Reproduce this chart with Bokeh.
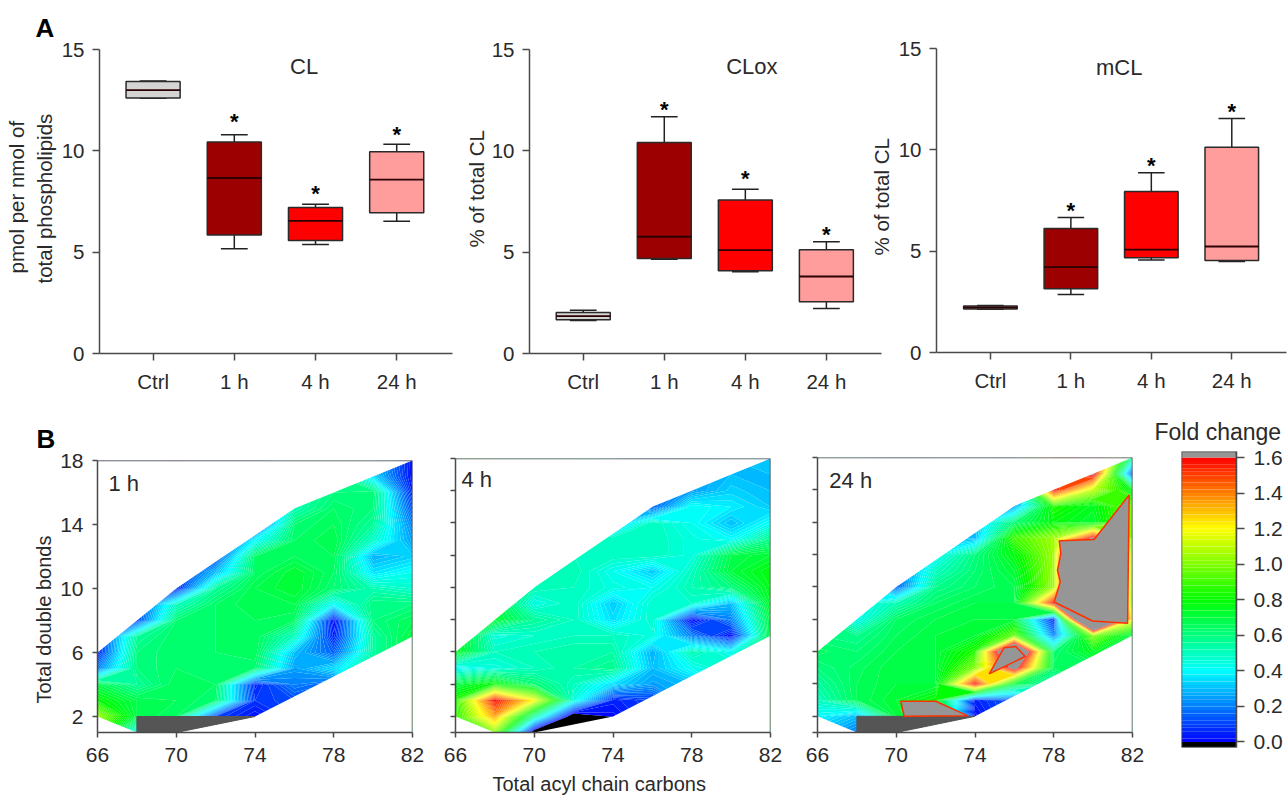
import numpy as np
from bokeh.core.properties import value
from bokeh.embed import file_html
from bokeh.layouts import column, row
from bokeh.models import FixedTicker, Label, NumeralTickFormatter, Range1d, Span, Title
from bokeh.plotting import figure
from bokeh.resources import INLINE

# ---------- panel A data ----------
groups = ["Ctrl", "1 h", "4 h", "24 h"]
box_colors = ["#d4d4d4", "#9c0000", "#ff0000", "#ff9c9c"]
cl_low = [12.60, 5.17, 5.38, 6.52]
cl_q1 = [12.61, 5.85, 5.58, 6.95]
cl_med = [13.00, 8.66, 6.54, 8.58]
cl_q3 = [13.42, 10.44, 7.21, 9.96]
cl_high = [13.44, 10.79, 7.36, 10.32]
cl_star = [None, 11.62, 8.02, 10.93]
clox_low = [1.63, 4.65, 4.03, 2.22]
clox_q1 = [1.66, 4.69, 4.08, 2.55]
clox_med = [1.84, 5.76, 5.10, 3.80]
clox_q3 = [2.02, 10.41, 7.58, 5.12]
clox_high = [2.14, 11.68, 8.11, 5.51]
clox_star = [None, 12.2, 8.78, 6.04]
mcl_low = [2.13, 2.86, 4.56, 4.49]
mcl_q1 = [2.15, 3.14, 4.67, 4.54]
mcl_med = [2.22, 4.21, 5.08, 5.23]
mcl_q3 = [2.29, 6.12, 7.94, 10.13]
mcl_high = [2.32, 6.66, 8.87, 11.55]
mcl_star = [None, 7.17, 9.39, 12.02]

# ---------- panel B data ----------
carbons = [66, 68, 70, 72, 74, 76, 78, 80, 82]
bonds = list(range(1, 19))
edge_top = [6, 8, 10, 11.67, 13.33, 15, 16, 17, 18]
edge_low = [2, 1, 1, 1.5, 2, 3.25, 4.5, 5.75, 7]
# one list per carbon count, values for bonds 1..18
z_1h = [
    [.9, 1.05, .8, .68, .2, .05, .05, .05, .05, .05, .05, .05, .05, .05, .05, .05, .05, .05],
    [.4, .68, .68, .56, .6, .6, .56, .1, .1, .1, .1, .1, .1, .1, .1, .1, .1, .1],
    [.4, .64, .66, .66, .64, .64, .64, .62, .5, .05, .05, .05, .05, .05, .05, .05, .05, .05],
    [.3, .1, .62, .64, .64, .64, .64, .64, .64, .56, .3, .1, .1, .1, .1, .1, .1, .1],
    [.02, .02, .08, .05, .62, .66, .66, .66, .68, .68, .64, .64, .4, .1, .1, .1, .1, .1],
    [.1, .1, .12, .2, .25, .3, .5, .64, .68, .72, .72, .66, .64, .62, .52, .52, .52, .52],
    [.15, .15, .15, .15, .35, .15, .05, .01, .4, .62, .64, .66, .68, .66, .64, .6, .6, .6],
    [.58, .58, .58, .58, .58, .55, .55, .6, .6, .52, .36, .28, .48, .56, .6, .62, .35, .3],
    [.7, .7, .7, .7, .7, .7, .7, .66, .6, .48, .42, .33, .25, .2, .12, .05, .02, .02],
]
z_4h = [
    [.6, .85, .85, .7, .4, .75, .8, .8, .8, .8, .8, .8, .8, .8, .8, .8, .8, .8],
    [1.0, 1.35, 1.6, .8, .45, .5, .45, .72, .7, .7, .7, .7, .7, .7, .7, .7, .7, .7],
    [-.1, .55, 1.2, .62, .5, .52, .48, .56, .44, .52, .52, .52, .52, .52, .52, .52, .52, .52],
    [-.5, -.1, .45, .5, .54, .54, .5, .5, .5, .5, .52, .5, .5, .5, .5, .5, .5, .5],
    [-.2, .01, .05, .35, .58, .54, .5, .35, .32, .45, .42, .5, .5, .3, .3, .3, .3, .3],
    [.1, .1, .1, .25, .3, .28, .45, .48, .48, .42, .32, .5, .5, .5, .15, .15, .15, .15],
    [.3, .3, .3, .3, .42, .52, .2, .01, .48, .52, .5, .45, .45, .42, .42, .25, .25, .25],
    [.5, .5, .5, .5, .5, .42, .02, .2, .3, .6, .7, .68, .4, .3, .38, .33, .3, .3],
    [.7, .7, .7, .7, .7, .7, .7, .7, .74, .76, .78, .72, .58, .42, .32, .3, .3, .32],
]
z_24h = [
    [.3, .4, .5, .55, .6, .65, .6, .6, .6, .6, .6, .6, .6, .6, .6, .6, .6, .6],
    [.2, .3, .66, .66, .65, .62, .58, .42, .4, .4, .4, .4, .4, .4, .4, .4, .4, .4],
    [.3, .7, .72, .7, .7, .68, .66, .64, .52, .15, .15, .15, .15, .15, .15, .15, .15, .15],
    [.1, .8, .8, .7, .7, .7, .7, .68, .64, .58, .5, .4, .3, .3, .3, .3, .3, .3],
    [.01, .01, .05, 1.6, 1.0, .85, .72, .7, .68, .64, .62, .6, .3, .3, .3, .3, .3, .3],
    [.15, .15, .15, .7, 1.7, 2.2, .95, .7, .68, .68, .72, .78, .9, .62, .25, .25, .25, .25],
    [.5, .5, .5, .5, .65, .62, .2, .05, 1.6, 1.05, 1.05, 1.05, 1.05, .78, .85, 1.6, 1.5, 1.5],
    [.65, .65, .65, .65, .65, .75, 1.0, 3.0, 3.0, 3.0, 3.0, 3.0, 1.65, .72, .75, 1.1, 1.65, 1.65],
    [.6, .6, .6, .6, .6, .6, .68, 1.2, 1.0, 1.0, 1.0, 1.0, 1.0, 1.0, 1.0, .75, .1, .55],
]
no_data_x = [68, 68, 74, 70]
no_data_y = [1, 2, 2, 1]
over_big_x = [81.83, 80.05, 78.28, 78.36, 78.19, 78.33, 78.02, 79.97, 81.75]
over_big_y = [15.68, 12.93, 12.85, 12.06, 11.03, 10.31, 9.07, 7.89, 7.76]
over_mid_x = [75.48, 76.07, 76.55, 74.72]
over_mid_y = [6.24, 6.32, 5.7, 4.62]
over_low_x = [70.23, 72.01, 73.62, 70.4]
over_low_y = [2.93, 2.93, 2.04, 2.0]

levels = [round(0.02 * i, 2) for i in range(81)]
scale_ticks = [0.0, 0.2, 0.4, 0.6, 0.8, 1.0, 1.2, 1.4, 1.6]
scale_stops = [0.0, 0.4, 0.8, 1.2, 1.6]
scale_r = [0, 0, 0, 255, 255]
scale_g = [0, 255, 255, 255, 0]
scale_b = [255, 255, 0, 0, 0]

FONT = "Liberation Sans"
INK = "#2a2a2a"
AXIS = "#4a4a4a"


def color_at(v):
    r = np.interp(v, scale_stops, scale_r)
    g = np.interp(v, scale_stops, scale_g)
    b = np.interp(v, scale_stops, scale_b)
    return "#%02x%02x%02x" % (int(r), int(g), int(b))


band_colors = [color_at((a + b) / 2) for a, b in zip(levels[:-1], levels[1:])]


def note(p, text, x, y, size, **kw):
    p.add_layout(Label(x=x, y=y, text=text, text_font=FONT, text_font_size=f"{size}px",
                       text_color=INK, **kw))


def side(p, where, text, size, standoff, offset=0, **kw):
    p.add_layout(Title(text=text, align="left", offset=offset, standoff=standoff,
                       text_font=FONT, text_font_size=f"{size}px",
                       text_color=kw.pop("color", INK),
                       text_font_style=kw.pop("style", "normal")), where)


def box_panel(width, height, left, right, top, bottom, xr, title, title_xy,
              low, q1, med, q3, high, star):
    p = figure(width=width, height=height, x_range=Range1d(*xr), y_range=Range1d(0, 15),
               title=None, output_backend="svg", toolbar_location=None, frame_align=False,
               min_border_left=left, min_border_right=right,
               min_border_top=top, min_border_bottom=bottom)
    p.grid.visible = False
    p.outline_line_color = None
    p.background_fill_color = None
    p.border_fill_color = None
    pos = list(range(len(groups)))
    p.xaxis.ticker = FixedTicker(ticks=pos)
    p.xaxis.major_label_overrides = dict(zip(pos, groups))
    p.yaxis.ticker = FixedTicker(ticks=[0, 5, 10, 15])
    for ax in (p.xaxis[0], p.yaxis[0]):
        ax.axis_line_color = AXIS
        ax.axis_line_width = 1.5
        ax.major_tick_line_color = AXIS
        ax.major_tick_line_width = 1.5
        ax.major_tick_out = 7
        ax.major_tick_in = 0
        ax.minor_tick_line_color = None
        ax.major_label_text_font = FONT
        ax.major_label_text_font_size = "20.5px"
        ax.major_label_text_color = INK
        ax.major_label_standoff = 8
    p.xaxis.major_label_standoff = 9
    hw, cw = 0.333, 0.165
    xs = np.array(pos, dtype=float)
    p.segment(xs, high, xs, q3, line_color="#222222", line_width=1.5)
    p.segment(xs, low, xs, q1, line_color="#222222", line_width=1.5)
    p.segment(xs - cw, high, xs + cw, high, line_color="#222222", line_width=1.5)
    p.segment(xs - cw, low, xs + cw, low, line_color="#222222", line_width=1.5)
    p.quad(left=xs - hw, right=xs + hw, bottom=q1, top=q3, fill_color=box_colors,
           line_color="#2a2a2a", line_width=1.5)
    p.segment(xs - hw, med, xs + hw, med, line_color="#2a0000", line_width=1.8)
    sx = [x for x, s in zip(pos, star) if s is not None]
    sy = [s for s in star if s is not None]
    p.text(sx, sy, text=["*"] * len(sx), text_font=value(FONT), text_font_style="bold",
           text_font_size="22px", text_align="center", text_baseline="middle",
           text_color="#000000", y_offset=3)
    note(p, title, title_xy[0], title_xy[1], 22, text_align="center", text_baseline="middle")
    return p


RH = 405
pa = box_panel(454, RH, 99, 2, 49, 52, (-0.66, 3.687), "CL", (1.86, 14.16),
               cl_low, cl_q1, cl_med, cl_q3, cl_high, cl_star)
pb = box_panel(440, RH, 75, 13, 49, 52, (-0.663, 3.68), "CLox", (2.08, 14.14),
               clox_low, clox_q1, clox_med, clox_q3, clox_high, clox_star)
pc = box_panel(423, RH, 70, 2, 48, 53, (-0.67, 3.68), "mCL", (1.6, 14.04),
               mcl_low, mcl_q1, mcl_med, mcl_q3, mcl_high, mcl_star)
pc.margin = (0, 0, 0, -29)
side(pa, "above", "A", 26, 14, offset=35 - 99, color="#000000", style="bold")
side(pa, "left", "total phospholipids", 20.5, 6, offset=70)
side(pa, "left", "pmol per nmol of", 20.5, 0, offset=80)
side(pb, "left", "% of total CL", 20.5, 2, offset=106)
side(pc, "left", "% of total CL", 20.5, 5, offset=97)


def map_panel(width, left, right, top, bottom, z, tag, tag_xy, y_ticks, y_labels):
    p = figure(width=width, height=395, x_range=Range1d(66, 82), y_range=Range1d(1, 18),
               title=None, output_backend="svg", toolbar_location=None, frame_align=False,
               min_border_left=left, min_border_right=right,
               min_border_top=top, min_border_bottom=bottom)
    p.grid.visible = False
    p.outline_line_color = None
    p.xaxis.ticker = FixedTicker(ticks=[66, 70, 74, 78, 82])
    p.yaxis.ticker = FixedTicker(ticks=y_ticks)
    for ax in (p.xaxis[0], p.yaxis[0]):
        ax.axis_line_color = AXIS
        ax.axis_line_width = 1.5
        ax.major_tick_line_color = AXIS
        ax.major_tick_line_width = 1.5
        ax.major_tick_out = 5
        ax.major_tick_in = 0
        ax.minor_tick_line_color = None
        ax.major_label_text_font = FONT
        ax.major_label_text_font_size = "21px"
        ax.major_label_text_color = INK
    p.xaxis.major_label_standoff = 10
    p.yaxis.major_label_standoff = 9
    if not y_labels:
        p.yaxis.major_label_overrides = {t: "" for t in y_ticks}
        p.yaxis.major_label_standoff = 0
    grid = np.array(z, dtype=float).T
    lv = [-100.0] + levels + [100.0]
    cols = ["#000000"] + band_colors + ["#969696"]
    r = p.contour(carbons, bonds, grid, lv, fill_color=cols, line_color=None)
    g = r.fill_renderer.glyph
    g.line_color = g.fill_color
    g.line_width = 1.5
    p.patch(carbons + [82, 66], edge_top + [18, 18], fill_color="white", line_color=None)
    p.patch(carbons + [82, 66], edge_low + [1, 1], fill_color="white", line_color=None)
    p.add_layout(Span(location=82, dimension="height", line_color=AXIS, line_width=1.5))
    p.add_layout(Span(location=18, dimension="width", line_color=AXIS, line_width=1.5))
    note(p, tag, tag_xy[0], tag_xy[1], 22, text_baseline="alphabetic")
    return p


p1 = map_panel(430, 97, 18, 55, 68, z_1h, "1 h", (66.56, 16.56), [2, 6, 10, 14, 18], True)
p2 = map_panel(360, 25, 20, 53, 66, z_4h, "4 h", (66.3, 16.7), [1, 2, 4, 6, 8, 10, 12, 14, 16, 18], False)
p3 = map_panel(360, 27, 18, 52, 68, z_24h, "24 h", (66.6, 16.55), [1, 2, 4, 6, 8, 10, 12, 14, 16, 18], False)
for p in (p1, p3):
    p.patch(no_data_x, no_data_y, fill_color="#555555", line_color="#555555", line_width=1)
for ox, oy in ((over_big_x, over_big_y), (over_mid_x, over_mid_y), (over_low_x, over_low_y)):
    p3.patch(ox, oy, fill_color="#969696", line_color="#ff3000", line_width=1.5)
side(p1, "above", "B", 26, 14, offset=36 - 97, color="#000000", style="bold")
side(p1, "left", "Total double bonds", 20, 5, offset=29)
side(p2, "below", "Total acyl chain carbons", 20, 12, offset=37)

LOW, HIGH = -0.031, 1.634
cb = figure(width=138, height=395, x_range=Range1d(0, 1), y_range=Range1d(LOW, HIGH),
            title=None, output_backend="svg", toolbar_location=None, frame_align=False,
            min_border_left=31, min_border_right=52, min_border_top=46, min_border_bottom=53,
            y_axis_location="right")
cb.grid.visible = False
cb.xaxis.visible = False
cb.outline_line_color = None
edges = [LOW] + levels + [HIGH]
cb.quad(left=0, right=1, bottom=edges[:-1], top=edges[1:],
        fill_color=["#000000"] + band_colors + ["#969696"], line_color=None)
for loc in (0, 1):
    cb.add_layout(Span(location=loc, dimension="height", line_color=AXIS, line_width=1.5))
for loc in (LOW, HIGH):
    cb.add_layout(Span(location=loc, dimension="width", line_color=AXIS, line_width=1.5))
ax = cb.yaxis[0]
ax.ticker = FixedTicker(ticks=scale_ticks)
ax.formatter = NumeralTickFormatter(format="0.0")
ax.axis_line_color = AXIS
ax.axis_line_width = 1.5
ax.major_tick_line_color = AXIS
ax.major_tick_line_width = 1.5
ax.major_tick_out = 8
ax.major_tick_in = 0
ax.minor_tick_line_color = None
ax.major_label_text_font = FONT
ax.major_label_text_font_size = "21px"
ax.major_label_text_color = INK
ax.major_label_standoff = 9
side(cb, "above", "Fold change", 23, 13, offset=1154 - 1181)

layout = column(row(pa, pb, pc), row(p1, p2, p3, cb))
open("out.html", "w").write(file_html(layout, INLINE))
